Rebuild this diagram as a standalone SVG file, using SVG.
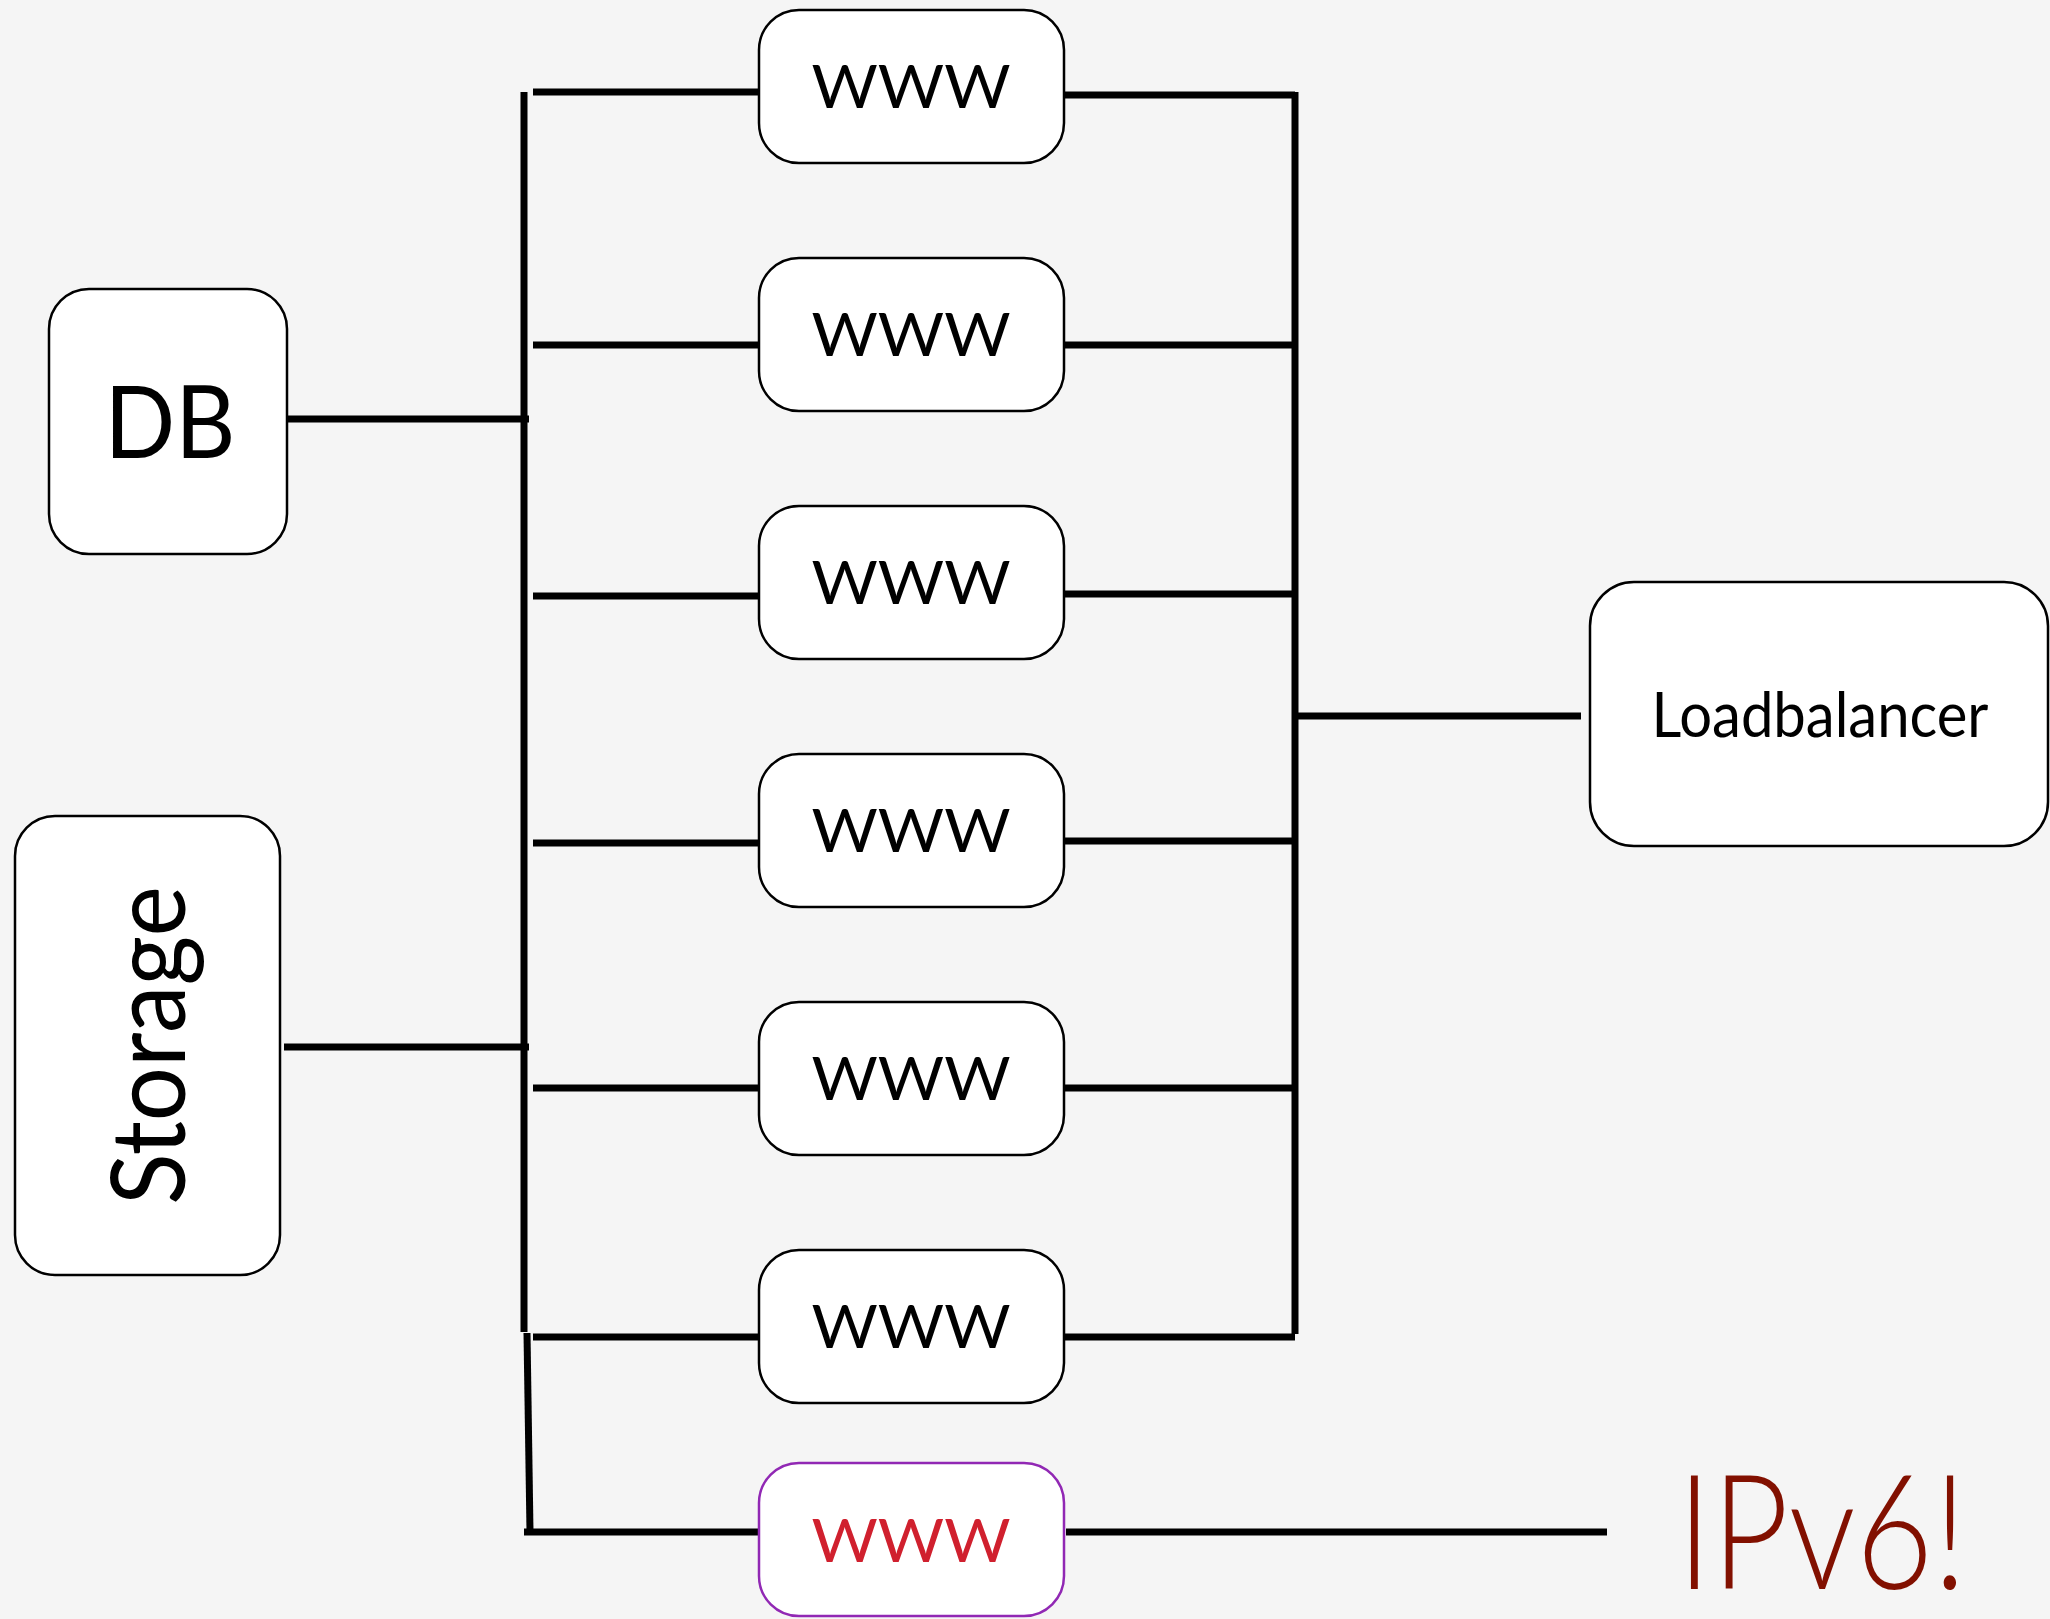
<svg xmlns="http://www.w3.org/2000/svg" width="2050" height="1619" viewBox="0 0 2050 1619">
<style>
.box{fill:#fff;stroke:#000;stroke-width:2.5}
.ln{stroke:#000;stroke-width:7;fill:none}
.t{font-family:Lato,"Liberation Sans",sans-serif;fill:#000;text-anchor:middle}
.www{font-size:60px}
</style>
<rect width="2050" height="1619" fill="#f5f5f5"/>
<g id="connectors">
<line class="ln" x1="524" y1="92" x2="524" y2="1332"/>
<line class="ln" x1="527" y1="1333" x2="530" y2="1532"/>
<line class="ln" x1="1295" y1="92" x2="1295" y2="1334"/>
<line class="ln" x1="285" y1="419" x2="529" y2="419"/>
<line class="ln" x1="284" y1="1047" x2="529" y2="1047"/>
<line class="ln" x1="1298" y1="716" x2="1581" y2="716"/>
<line class="ln" x1="533" y1="92" x2="766" y2="92"/>
<line class="ln" x1="1061" y1="95" x2="1295" y2="95"/>
<line class="ln" x1="533" y1="345" x2="766" y2="345"/>
<line class="ln" x1="1061" y1="345" x2="1295" y2="345"/>
<line class="ln" x1="533" y1="596" x2="766" y2="596"/>
<line class="ln" x1="1061" y1="594" x2="1295" y2="594"/>
<line class="ln" x1="533" y1="843" x2="766" y2="843"/>
<line class="ln" x1="1061" y1="841" x2="1295" y2="841"/>
<line class="ln" x1="533" y1="1088" x2="766" y2="1088"/>
<line class="ln" x1="1061" y1="1088" x2="1295" y2="1088"/>
<line class="ln" x1="533" y1="1337" x2="766" y2="1337"/>
<line class="ln" x1="1061" y1="1337" x2="1295" y2="1337"/>
<line class="ln" x1="524" y1="1532" x2="760" y2="1532"/>
<line class="ln" x1="1066" y1="1532" x2="1607" y2="1532"/>
</g>
<g id="db">
<rect class="box" x="49" y="289" width="238" height="265" rx="40"/>
<text class="t" x="170" y="458" font-size="100" textLength="131" lengthAdjust="spacingAndGlyphs">DB</text>
</g>
<g id="storage">
<rect class="box" x="15" y="816" width="265" height="459" rx="40"/>
<text class="t" transform="translate(185,1045.5) rotate(-90)" font-size="102" textLength="319" lengthAdjust="spacingAndGlyphs">Storage</text>
</g>
<g id="loadbalancer">
<rect class="box" x="1590" y="582" width="458" height="264" rx="44"/>
<text class="t" x="1820" y="737" font-size="61" textLength="337" lengthAdjust="spacingAndGlyphs">Loadbalancer</text>
</g>
<g id="www1">
<rect class="box" x="759" y="10" width="305" height="153" rx="40"/>
<text class="t www" x="911" y="108" textLength="199" lengthAdjust="spacingAndGlyphs">WWW</text>
</g>
<g id="www2">
<rect class="box" x="759" y="258" width="305" height="153" rx="40"/>
<text class="t www" x="911" y="356" textLength="199" lengthAdjust="spacingAndGlyphs">WWW</text>
</g>
<g id="www3">
<rect class="box" x="759" y="506" width="305" height="153" rx="40"/>
<text class="t www" x="911" y="604" textLength="199" lengthAdjust="spacingAndGlyphs">WWW</text>
</g>
<g id="www4">
<rect class="box" x="759" y="754" width="305" height="153" rx="40"/>
<text class="t www" x="911" y="852" textLength="199" lengthAdjust="spacingAndGlyphs">WWW</text>
</g>
<g id="www5">
<rect class="box" x="759" y="1002" width="305" height="153" rx="40"/>
<text class="t www" x="911" y="1100" textLength="199" lengthAdjust="spacingAndGlyphs">WWW</text>
</g>
<g id="www6">
<rect class="box" x="759" y="1250" width="305" height="153" rx="40"/>
<text class="t www" x="911" y="1348" textLength="199" lengthAdjust="spacingAndGlyphs">WWW</text>
</g>
<g id="www7">
<rect x="759" y="1463" width="305" height="153" rx="40" fill="#fff" stroke="#9128b4" stroke-width="2.5"/>
<text class="t www" x="911" y="1562" style="fill:#d0202e" textLength="199" lengthAdjust="spacingAndGlyphs">WWW</text>
</g>
<g id="ipv6">
<text x="1677" y="1589" font-family="Lato,'Liberation Sans',sans-serif" font-weight="300" font-size="160" fill="#821000" textLength="290" lengthAdjust="spacingAndGlyphs">IPv6!</text>
</g>
</svg>
